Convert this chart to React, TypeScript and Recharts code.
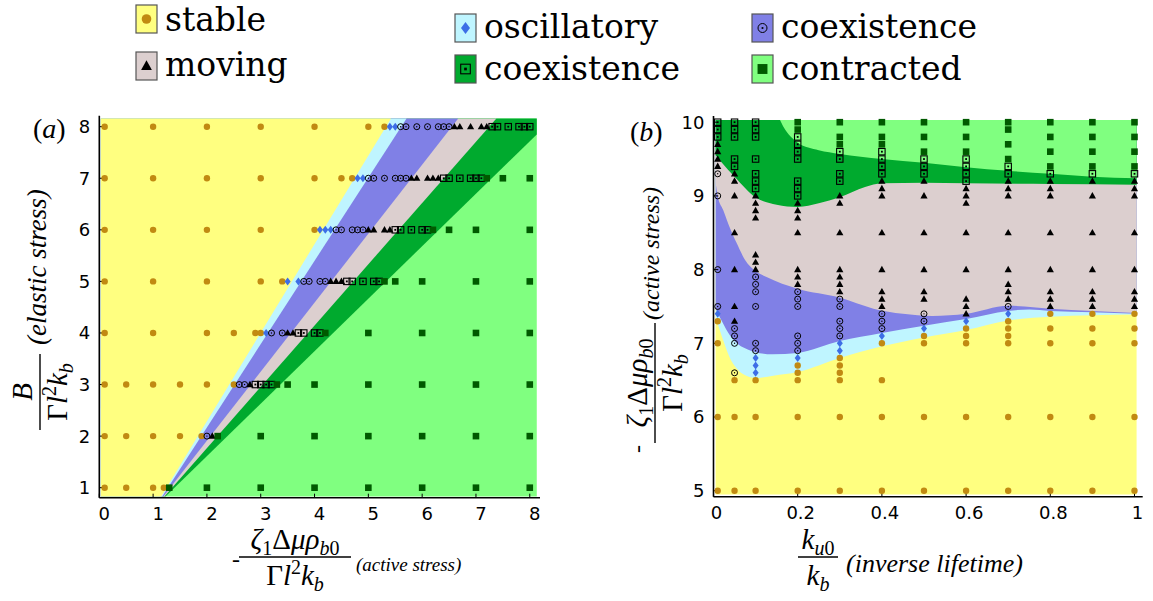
import React from 'react';
import { ComposedChart, Area, Scatter, XAxis, YAxis } from 'recharts';

// region colours and marker colours
const FILL = {
  stable: '#ffff80',
  osc: '#bff5ff',
  coex: '#8080e6',
  moving: '#dccfcf',
  coex2: '#00aa2e',
  contracted: '#80ff80',
};
const MARK = { stable: '#c18a12', osc: '#3d6ee6', contracted: '#005a00' };

// ---------- panel (a): elastic stress rows vs active stress ----------
const aRows = [8, 7, 6, 5, 4, 3, 2, 1];
const aStable = [
  [0.1, 1, 2, 3, 4, 5, 5.3],
  [0.1, 1, 2, 3, 4, 4.5, 4.7],
  [0.1, 1, 2, 3, 4],
  [0.1, 1, 2, 3, 3.4],
  [0.1, 1, 2, 2.5, 2.9, 3],
  [0.1, 0.5, 1, 1.5, 2, 2.5],
  [0.1, 0.5, 1, 1.5, 1.9],
  [0.1, 0.5, 1, 1.2],
];
const aOsc = [[5.4, 5.5], [4.8, 4.9], [4.1, 4.2, 4.3], [3.5, 3.7], [3.1], [], [], []];
const aCoex = [
  [5.6, 5.7, 5.9, 6.1, 6.3, 6.4, 6.5],
  [5, 5.1, 5.3, 5.5, 5.6, 5.7],
  [4.4, 4.5, 4.7, 4.8, 4.9],
  [3.8, 3.9, 4.1, 4.2],
  [3.2, 3.4],
  [2.6, 2.7],
  [2],
  [],
];
const aMoving = [
  [6.6, 6.7, 6.9, 7.1, 7.2],
  [5.8, 5.9, 6.1, 6.2, 6.3],
  [5, 5.1, 5.3, 5.4],
  [4.3, 4.4, 4.5],
  [3.5, 3.6],
  [2.8],
  [2.1],
  [],
];
const aCoex2 = [
  [7.3, 7.4, 7.6, 7.8, 7.9, 8],
  [6.4, 6.5, 6.7, 6.9, 7, 7.1],
  [5.5, 5.6, 5.8, 6, 6.1],
  [4.6, 4.7, 4.9, 5.1, 5.2],
  [3.7, 3.8, 4, 4.1],
  [2.9, 3, 3.1, 3.2],
  [],
  [],
];
const aContracted = [
  [],
  [7.2, 7.5, 8],
  [6.2, 6.5, 7, 8],
  [5.3, 5.5, 6, 7, 8],
  [4.2, 5, 6, 7, 8],
  [3.3, 3.5, 4, 5, 6, 7, 8],
  [2.2, 3, 4, 5, 6, 7, 8],
  [1.3, 2, 3, 4, 5, 6, 7, 8],
];
// phase boundaries (stable|osc, osc|coex, coex|moving, moving|coex2, coex2|contracted)
const aEdgeBottomX = [1.15, 1.17, 1.19, 1.21, 1.23];
const aEdgeTopX = [5.42, 5.71, 6.67, 7.38, 8.13];
const aEdgeTopY = [8.16, 8.16, 8.16, 8.16, 7.85];
const aFillX = [0.03, 8.13];
const aFillY = [0.83, 8.16];
const aTicksX = [0, 1, 2, 3, 4, 5, 6, 7, 8];
const aTicksY = [1, 2, 3, 4, 5, 6, 7, 8];

// ---------- panel (b): active stress vs inverse lifetime ----------
const bCols = [0.01, 0.05, 0.1, 0.2, 0.3, 0.4, 0.5, 0.6, 0.7, 0.8, 0.9, 1];
const bStable = [
  [7.3, 7, 6, 5],
  [6.5, 6, 5],
  [6.5, 6, 5],
  [6.7, 6.6, 6.5, 6, 5],
  [6.8, 6.7, 6.6, 6.5, 6, 5],
  [7, 6.5, 6, 5],
  [7.1, 7, 6, 5],
  [7.2, 7.1, 7, 6, 5],
  [7.3, 7.2, 7.1, 7, 6, 5],
  [7.4, 7.2, 7, 6, 5],
  [7.4, 7.2, 7, 6, 5],
  [7.4, 7.2, 7, 6, 5],
];
const bOsc = [[7.4], [], [6.8, 6.7, 6.6], [6.8], [7, 6.9], [7.1], [7.2], [7.3], [7.4], [], [], []];
const bCoex = [
  [9.3, 9, 8, 7.5],
  [7.2, 7.1, 7, 6.6],
  [7.9, 7.8, 7.7, 7.5, 7, 6.9],
  [7.7, 7.6, 7.5, 7.1, 7, 6.9],
  [7.6, 7.5, 7.3, 7.2, 7.1],
  [7.4, 7.3, 7.2],
  [7.4, 7.3],
  [],
  [7.5],
  [],
  [],
  [],
];
const bMoving = [
  [9.7, 9.6, 9.5, 9.4],
  [9.3, 9.2, 9, 8.5, 8, 7.5, 7.3],
  [9, 8.9, 8.8, 8.7, 8.2, 8.1, 8],
  [8.9, 8.8, 8.7, 8.5, 8, 7.9, 7.8],
  [9, 8.9, 8.5, 8, 7.9, 7.8, 7.7],
  [9.2, 9.1, 9, 8.5, 8, 7.7, 7.6, 7.5],
  [9.2, 9, 8.5, 8, 7.7, 7.6],
  [9.1, 9, 8.9, 8.5, 8, 7.6, 7.5, 7.4],
  [9.2, 9.1, 9, 8.5, 8, 7.8, 7.7, 7.6],
  [9.2, 9.1, 9, 8.5, 8, 7.7, 7.6, 7.5],
  [9.2, 9, 8.5, 8, 7.7, 7.6, 7.5],
  [9.2, 9.1, 9, 8.5, 8, 7.7, 7.6, 7.5],
];
const bCoex2 = [
  [10, 9.9, 9.8],
  [10, 9.9, 9.8, 9.5, 9.4],
  [10, 9.9, 9.8, 9.5, 9.3, 9.2, 9.1],
  [9.8, 9.7, 9.6, 9.5, 9.2, 9.1, 9],
  [9.6, 9.5, 9.3, 9.2],
  [9.6, 9.5, 9.4, 9.3],
  [9.5, 9.4, 9.3],
  [9.5, 9.4, 9.3, 9.2],
  [9.4, 9.3],
  [9.3],
  [9.3],
  [9.3],
];
const bContracted = [
  [],
  [],
  [],
  [10, 9.9],
  [10, 9.8, 9.7],
  [10, 9.8, 9.7],
  [10, 9.8, 9.6],
  [10, 9.8, 9.6],
  [10, 9.9, 9.7, 9.5],
  [10, 9.8, 9.6, 9.4],
  [10, 9.8, 9.6, 9.4],
  [10, 9.8, 9.6, 9.4],
];
// upper edge of each region, as [x, y] pairs
const bTopStable = [[0.005, 7.36], [0.023, 7.04], [0.039, 6.8], [0.055, 6.66], [0.071, 6.58], [0.087, 6.54], [0.103, 6.53], [0.142, 6.56], [0.2, 6.61], [0.3, 6.8], [0.4, 6.96], [0.5, 7.08], [0.6, 7.18], [0.7, 7.31], [0.8, 7.36], [0.9, 7.38], [1.005, 7.39]];
const bTopOsc = [[0.005, 7.47], [0.02, 7.3], [0.04, 7.1], [0.06, 6.98], [0.08, 6.92], [0.1, 6.88], [0.14, 6.85], [0.2, 6.87], [0.3, 7.03], [0.4, 7.14], [0.5, 7.24], [0.6, 7.33], [0.7, 7.44], [0.75, 7.46], [0.8, 7.44], [0.9, 7.42], [1.005, 7.4]];
const bTopCoex = [[0.005, 9.18], [0.01, 9], [0.023, 8.81], [0.04, 8.55], [0.055, 8.36], [0.075, 8.13], [0.1, 7.98], [0.126, 7.9], [0.2, 7.74], [0.3, 7.62], [0.38, 7.47], [0.45, 7.4], [0.52, 7.37], [0.6, 7.4], [0.7, 7.51], [0.8, 7.47], [0.9, 7.44], [1.005, 7.41]];
const bTopMoving = [[0.005, 9.55], [0.02, 9.45], [0.05, 9.26], [0.1, 8.98], [0.15, 8.88], [0.2, 8.85], [0.25, 8.9], [0.3, 8.98], [0.36, 9.12], [0.4, 9.17], [0.5, 9.18], [0.6, 9.17], [0.8, 9.16], [1.005, 9.15]];
const bTopCoex2 = [[0.158, 10.03], [0.165, 9.95], [0.175, 9.86], [0.19, 9.77], [0.2, 9.72], [0.25, 9.62], [0.3, 9.57], [0.4, 9.5], [0.5, 9.45], [0.6, 9.39], [0.7, 9.34], [0.8, 9.3], [0.9, 9.26], [1.005, 9.24]];
const bFillX = [0.005, 1.005];
const bFillY = [4.95, 10.03];
const bTicksX = [0, 0.2, 0.4, 0.6, 0.8, 1];
const bTicksY = [5, 6, 7, 8, 9, 10];

const A_X = [0, 8.19];
const A_Y = [0.806, 8.213];
const B_X = [0, 1.0195];
const B_Y = [4.919, 10.084];

const TICK = { fill: '#000', fontSize: 18, fontFamily: 'DejaVu Sans' };
const AXIS = { stroke: '#000', strokeWidth: 1.6 };
const TLINE = { stroke: '#000', strokeWidth: 1 };

function rowPoints(rows: number[], xs: number[][]) {
  return rows.flatMap((y, i) => xs[i].map((x) => ({ x, y })));
}
function colPoints(cols: number[], ys: number[][]) {
  return cols.flatMap((x, i) => ys[i].map((y) => ({ x, y })));
}
function fullBlock(fx: number[], fy: number[]) {
  return [
    { x: fx[0], range: [fy[0], fy[1]] },
    { x: fx[1], range: [fy[0], fy[1]] },
  ];
}
function aboveEdgeA(i: number) {
  return [
    { x: aFillX[0], range: [aFillY[0], aFillY[1]] },
    { x: aEdgeBottomX[i], range: [aFillY[0], aFillY[1]] },
    { x: aEdgeTopX[i], range: [aEdgeTopY[i], aFillY[1]] },
  ];
}
function aboveCurveB(curve: number[][]) {
  return curve.map(([x, y]) => ({ x, range: [y, bFillY[1]] }));
}

function Marker({ kind, cx, cy, s = 1 }: { kind: string; cx: number; cy: number; s?: number }) {
  if (kind === 'stable') return <circle cx={cx} cy={cy} r={3.2 * s} fill={MARK.stable} />;
  if (kind === 'osc')
    return <path d={`M${cx},${cy - 4 * s}L${cx + 3 * s},${cy}L${cx},${cy + 4 * s}L${cx - 3 * s},${cy}Z`} fill={MARK.osc} />;
  if (kind === 'coex')
    return (
      <g>
        <circle cx={cx} cy={cy} r={3 * s} fill="none" stroke="#000" strokeWidth={1} />
        <circle cx={cx} cy={cy} r={0.7 * s} fill="#000" />
      </g>
    );
  if (kind === 'moving')
    return <path d={`M${cx},${cy - 3.8 * s}L${cx + 3.6 * s},${cy + 2.6 * s}L${cx - 3.6 * s},${cy + 2.6 * s}Z`} fill="#000" />;
  if (kind === 'coex2')
    return (
      <g>
        <rect x={cx - 3.2 * s} y={cy - 3.2 * s} width={6.4 * s} height={6.4 * s} fill="none" stroke="#000" strokeWidth={1.1} />
        <rect x={cx - 0.9 * s} y={cy - 0.9 * s} width={1.8 * s} height={1.8 * s} fill="#000" />
      </g>
    );
  return <rect x={cx - 3.3 * s} y={cy - 3.3 * s} width={6.6 * s} height={6.6 * s} fill={MARK.contracted} />;
}

const shapeOf = (kind: string) => (p: any) => <Marker kind={kind} cx={p.cx} cy={p.cy} />;

function band(key: string, data: any[], fill: string, curve: 'linear' | 'monotone') {
  return (
    <Area
      key={key}
      data={data}
      dataKey="range"
      type={curve}
      fill={fill}
      fillOpacity={1}
      stroke="none"
      dot={false}
      activeDot={false}
      isAnimationActive={false}
    />
  );
}

function axes(xd: number[], yd: number[], xt: number[], yt: number[], fmt?: (v: number) => string, dx = 4) {
  return [
    <XAxis key="xb" dataKey="x" type="number" domain={xd} ticks={xt} allowDataOverflow interval={0} height={30}
      tickSize={-4} tickMargin={14} tick={{ ...TICK, dx }} tickFormatter={fmt} axisLine={AXIS} tickLine={TLINE} />,
    <XAxis key="xt" xAxisId="t" orientation="top" type="number" domain={xd} ticks={xt} allowDataOverflow interval={0}
      height={0} tickSize={-4} tick={false} axisLine={AXIS} tickLine={TLINE} />,
    <YAxis key="yl" type="number" domain={yd} ticks={yt} allowDataOverflow interval={0} width={40}
      tickSize={-4} tickMargin={13} tick={TICK} axisLine={AXIS} tickLine={TLINE} />,
    <YAxis key="yr" yAxisId="r" orientation="right" type="number" domain={yd} ticks={yt} allowDataOverflow interval={0}
      width={0} tickSize={-4} tick={false} axisLine={AXIS} tickLine={TLINE} />,
  ];
}

function PanelA() {
  const aboveOrder = [4, 3, 2, 1, 0];
  const aboveFill = [FILL.stable, FILL.osc, FILL.coex, FILL.moving, FILL.coex2];
  return (
    <ComposedChart width={560} height={601} margin={{ top: 115.7, right: 20, bottom: 73.3, left: 59.3 }}>
      {band('bg', fullBlock(aFillX, aFillY), FILL.contracted, 'linear')}
      {aboveOrder.map((i) => band(`e${i}`, aboveEdgeA(i), aboveFill[i], 'linear'))}
      <Scatter data={rowPoints(aRows, aStable)} dataKey="y" shape={shapeOf('stable')} isAnimationActive={false} />
      <Scatter data={rowPoints(aRows, aOsc)} dataKey="y" shape={shapeOf('osc')} isAnimationActive={false} />
      <Scatter data={rowPoints(aRows, aCoex)} dataKey="y" shape={shapeOf('coex')} isAnimationActive={false} />
      <Scatter data={rowPoints(aRows, aMoving)} dataKey="y" shape={shapeOf('moving')} isAnimationActive={false} />
      <Scatter data={rowPoints(aRows, aCoex2)} dataKey="y" shape={shapeOf('coex2')} isAnimationActive={false} />
      <Scatter data={rowPoints(aRows, aContracted)} dataKey="y" shape={shapeOf('contracted')} isAnimationActive={false} />
      {axes(A_X, A_Y, aTicksX, aTicksY, undefined, 5)}
    </ComposedChart>
  );
}

function PanelB() {
  return (
    <ComposedChart width={560} height={601} margin={{ top: 116, right: 10.3, bottom: 74.3, left: 80.5 }}>
      {band('bg', fullBlock(bFillX, bFillY), FILL.stable, 'linear')}
      {band('osc', aboveCurveB(bTopStable), FILL.osc, 'monotone')}
      {band('coex', aboveCurveB(bTopOsc), FILL.coex, 'monotone')}
      {band('moving', aboveCurveB(bTopCoex), FILL.moving, 'monotone')}
      {band('coex2', aboveCurveB(bTopMoving), FILL.coex2, 'monotone')}
      {band('contracted', aboveCurveB(bTopCoex2), FILL.contracted, 'monotone')}
      <Scatter data={colPoints(bCols, bStable)} dataKey="y" shape={shapeOf('stable')} isAnimationActive={false} />
      <Scatter data={colPoints(bCols, bOsc)} dataKey="y" shape={shapeOf('osc')} isAnimationActive={false} />
      <Scatter data={colPoints(bCols, bCoex)} dataKey="y" shape={shapeOf('coex')} isAnimationActive={false} />
      <Scatter data={colPoints(bCols, bMoving)} dataKey="y" shape={shapeOf('moving')} isAnimationActive={false} />
      <Scatter data={colPoints(bCols, bCoex2)} dataKey="y" shape={shapeOf('coex2')} isAnimationActive={false} />
      <Scatter data={colPoints(bCols, bContracted)} dataKey="y" shape={shapeOf('contracted')} isAnimationActive={false} />
      {axes(B_X, B_Y, bTicksX, bTicksY, (v) => (v === 0 || v === 1 ? String(v) : v.toFixed(1)), 3)}
    </ComposedChart>
  );
}

const legendItems = [
  { label: 'stable', kind: 'stable', fill: FILL.stable, x: 136, y: 5, base: 31 },
  { label: 'moving', kind: 'moving', fill: FILL.moving, x: 136, y: 52, base: 76 },
  { label: 'oscillatory', kind: 'osc', fill: FILL.osc, x: 455, y: 14, base: 38 },
  { label: 'coexistence', kind: 'coex2', fill: FILL.coex2, x: 455, y: 55, base: 80 },
  { label: 'coexistence', kind: 'coex', fill: FILL.coex, x: 752, y: 14, base: 38 },
  { label: 'contracted', kind: 'contracted', fill: FILL.contracted, x: 752, y: 55, base: 80 },
];

const SERIF = 'Liberation Serif';
const SUB = 20;

function ActiveNum() {
  return (
    <>
      <tspan fontStyle="italic">ζ</tspan>
      <tspan fontSize={SUB} dy={6}>1</tspan>
      <tspan dy={-6}>Δ</tspan>
      <tspan fontStyle="italic">μρ</tspan>
      <tspan fontSize={SUB} dy={6} fontStyle="italic">b</tspan>
      <tspan fontSize={SUB}>0</tspan>
    </>
  );
}
function ActiveDen() {
  return (
    <>
      <tspan>Γ</tspan>
      <tspan fontStyle="italic">l</tspan>
      <tspan fontSize={SUB} dy={-11}>2</tspan>
      <tspan dy={11} fontStyle="italic">k</tspan>
      <tspan fontSize={SUB} dy={6} fontStyle="italic">b</tspan>
    </>
  );
}

function Overlay() {
  return (
    <svg width={1153} height={601} style={{ position: 'absolute', left: 0, top: 0 }}>
      {legendItems.map((it, i) => (
        <g key={i}>
          <rect x={it.x} y={it.y} width={21} height={28} fill={it.fill} stroke="#555" strokeWidth={1.2} />
          <Marker kind={it.kind} cx={it.x + 10.5} cy={it.y + 14} s={1.5} />
          <text x={it.x + 29} y={it.base} fontFamily="DejaVu Serif" fontSize={33} fill="#000">{it.label}</text>
        </g>
      ))}

      <text x={33} y={138} fontFamily={SERIF} fontSize={28} fill="#000">(<tspan fontStyle="italic">a</tspan>)</text>
      <text x={630} y={141} fontFamily={SERIF} fontSize={28} fill="#000">(<tspan fontStyle="italic">b</tspan>)</text>

      {/* panel (a) x title */}
      <g transform="translate(295,557)" fontFamily={SERIF} fontSize={29} fill="#000">
        <text x={-63} y={10} fontSize={24}>-</text>
        <text x={0} y={-8} textAnchor="middle"><ActiveNum /></text>
        <line x1={-56} x2={56} y1={0} y2={0} stroke="#000" strokeWidth={1.4} />
        <text x={0} y={28} textAnchor="middle"><ActiveDen /></text>
        <text x={61} y={14} fontSize={19} fontStyle="italic">(active stress)</text>
      </g>

      {/* panel (b) x title */}
      <g transform="translate(818,557)" fontFamily={SERIF} fontSize={29} fill="#000">
        <text x={0} y={-8} textAnchor="middle">
          <tspan fontStyle="italic">k</tspan>
          <tspan fontSize={SUB} dy={6} fontStyle="italic">u</tspan>
          <tspan fontSize={SUB}>0</tspan>
        </text>
        <line x1={-20} x2={20} y1={0} y2={0} stroke="#000" strokeWidth={1.4} />
        <text x={0} y={28} textAnchor="middle">
          <tspan fontStyle="italic">k</tspan>
          <tspan fontSize={SUB} dy={6} fontStyle="italic">b</tspan>
        </text>
        <text x={28} y={15} fontSize={26} fontStyle="italic">(inverse lifetime)</text>
      </g>

      {/* panel (a) y title */}
      <g transform="translate(40,392) rotate(-90)" fontFamily={SERIF} fontSize={29} fill="#000">
        <text x={0} y={-8} textAnchor="middle" fontStyle="italic">B</text>
        <line x1={-38} x2={38} y1={0} y2={0} stroke="#000" strokeWidth={1.4} />
        <text x={0} y={27} textAnchor="middle"><ActiveDen /></text>
        <text x={47} y={6} fontSize={27} fontStyle="italic">(elastic stress)</text>
      </g>

      {/* panel (b) y title */}
      <g transform="translate(655,383) rotate(-90)" fontFamily={SERIF} fontSize={29} fill="#000">
        <text x={-70} y={-10} fontSize={24}>-</text>
        <text x={0} y={-8} textAnchor="middle"><ActiveNum /></text>
        <line x1={-60} x2={60} y1={0} y2={0} stroke="#000" strokeWidth={1.4} />
        <text x={0} y={27} textAnchor="middle"><ActiveDen /></text>
        <text x={63} y={4} fontSize={24} fontStyle="italic">(active stress)</text>
      </g>
    </svg>
  );
}

export default function App() {
  return (
    <div style={{ position: 'absolute', left: 0, top: 0, width: 1153, height: 601, background: '#fff', overflow: 'hidden' }}>
      <div style={{ position: 'absolute', left: 0, top: 0 }}>
        <PanelA />
      </div>
      <div style={{ position: 'absolute', left: 593, top: 0 }}>
        <PanelB />
      </div>
      <Overlay />
    </div>
  );
}
